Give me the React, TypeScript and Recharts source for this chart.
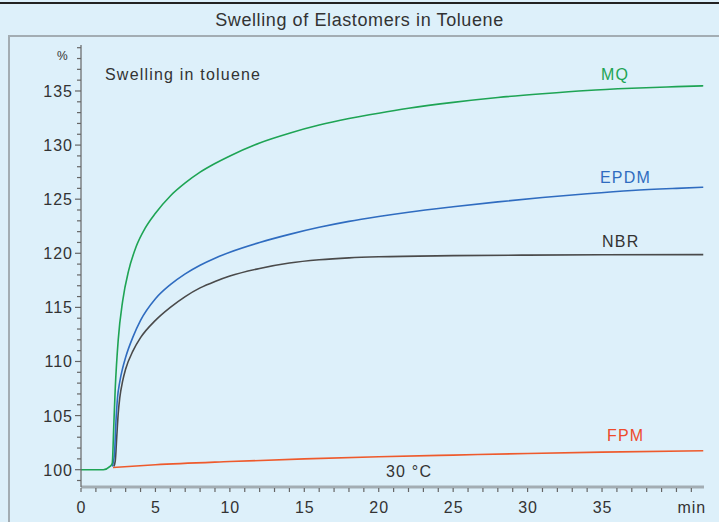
import { LineChart, Line, XAxis, YAxis } from 'recharts';

// time in minutes, swelling in %
const mqTime = [0, 1.5, 1.95, 2.1, 2.2, 2.3, 2.5, 2.8, 3.2, 3.7, 4.3, 5, 6, 7, 8, 9, 10, 12, 14, 16, 18, 20, 22, 25, 28, 31, 34, 37, 40, 41.8];
const mqValue = [100, 100, 100.3, 100.6, 104, 107.5, 112, 115.6, 118.4, 120.6, 122.3, 123.7, 125.3, 126.5, 127.5, 128.3, 129.0, 130.2, 131.1, 131.85, 132.45, 132.95, 133.4, 133.95, 134.4, 134.75, 135.05, 135.25, 135.4, 135.48];

const epdmTime = [2.1, 2.25, 2.35, 2.45, 2.6, 2.8, 3.0, 3.5, 4, 5, 6, 7, 8, 9, 10, 12, 14, 16, 18, 20, 22, 25, 28, 31, 34, 37, 40, 41.8];
const epdmValue = [100.3, 101.5, 104.5, 106.6, 108.1, 109.4, 110.4, 112.3, 113.8, 115.8, 117.1, 118.1, 118.9, 119.55, 120.1, 121.0, 121.75, 122.4, 122.95, 123.4, 123.8, 124.3, 124.75, 125.15, 125.5, 125.8, 126.0, 126.1];

const nbrTime = [2.2, 2.3, 2.4, 2.5, 2.6, 2.8, 3.0, 3.5, 4, 5, 6, 7, 8, 9, 10, 12, 14, 16, 18, 20, 25, 30, 35, 41.8];
const nbrValue = [100.3, 100.8, 103, 105.2, 106.6, 108.2, 109.3, 111.0, 112.2, 113.8, 115.0, 116.0, 116.8, 117.4, 117.9, 118.6, 119.1, 119.4, 119.58, 119.68, 119.78, 119.83, 119.86, 119.88];

const fpmTime = [2.15, 5, 10, 15, 20, 25, 30, 35, 41.8];
const fpmValue = [100.2, 100.45, 100.75, 101.0, 101.2, 101.35, 101.5, 101.62, 101.75];

const yTicks = Array.from({ length: 41 }, (_, i) => 99 + i);
const xTicks = Array.from({ length: 42 }, (_, i) => i);
const xLabels: Record<number, string> = { 0: '0', 5: '5', 10: '10', 15: '15', 20: '20', 25: '25', 30: '30', 35: '35', 41: 'min' };

const toPoints = (t: number[], v: number[]) => t.map((x, i) => ({ t: x, v: v[i] }));

const FONT = '"Liberation Sans", Arial, sans-serif';
const TEXT = '#333';

const YTick = (props: any) => {
  const { x, y, payload } = props;
  const major = payload.value % 5 === 0;
  return (
    <g>
      <line x1={x - (major ? 6 : 4)} x2={x} y1={y} y2={y} stroke="#666" strokeWidth={1.2} />
      {major && (
        <text x={x - 8} y={y + 6} textAnchor="end" fontSize={16} fill={TEXT} fontFamily={FONT} letterSpacing={1}>
          {payload.value}
        </text>
      )}
    </g>
  );
};

const XTick = (props: any) => {
  const { x, y, payload } = props;
  const label = xLabels[payload.value];
  return (
    <g>
      <line x1={x} x2={x} y1={y + 1} y2={y + 5} stroke="#666" strokeWidth={1.2} />
      {label && (
        <text x={x + 0.5} y={y + 26} textAnchor="middle" fontSize={16} fill={TEXT} fontFamily={FONT} letterSpacing={1}>
          {label}
        </text>
      )}
    </g>
  );
};

const note = (left: number, top: number, text: string, color: string, size = 16) => (
  <div style={{ position: 'absolute', left, top, color, fontSize: size, fontFamily: FONT, whiteSpace: 'nowrap', lineHeight: 1, letterSpacing: size > 13 ? 1.2 : 0 }}>
    {text}
  </div>
);

export default function App() {
  return (
    <div style={{ position: 'absolute', left: 0, top: 0, width: 719, height: 522, background: '#ddf0fa', overflow: 'hidden' }}>
      <div style={{ position: 'absolute', left: 0, top: 2, width: 719, height: 2, background: '#222' }} />
      <div style={{ position: 'absolute', left: 8, top: 35, width: 711, height: 2, background: '#a3adb3' }} />
      <div style={{ position: 'absolute', left: 8, top: 35, width: 1.5, height: 487, background: '#a3adb3' }} />
      <div style={{ position: 'absolute', left: 0, top: 10, width: 719, textAlign: 'center', fontSize: 18, color: TEXT, fontFamily: FONT, letterSpacing: 0.6 }}>
        Swelling of Elastomers in Toluene
      </div>
      <div style={{ position: 'absolute', left: 0, top: 0 }}>
        <LineChart width={719} height={522} margin={{ top: 45, right: 15, bottom: 5, left: 31 }}>
          <XAxis
            type="number"
            dataKey="t"
            domain={[0, 41.85]}
            allowDataOverflow
            ticks={xTicks}
            interval={0}
            tickSize={0}
            tickMargin={0}
            height={30}
            axisLine={{ stroke: '#a3adb3', strokeWidth: 3 }}
            tick={<XTick />}
          />
          <YAxis
            type="number"
            domain={[98.4, 139.25]}
            allowDataOverflow
            ticks={yTicks}
            interval={0}
            tickSize={0}
            tickMargin={0}
            width={50}
            axisLine={{ stroke: '#666', strokeWidth: 1.2 }}
            tick={<YTick />}
          />
          <Line data={toPoints(fpmTime, fpmValue)} dataKey="v" type="monotone" stroke="#ee5a2c" strokeWidth={1.6} dot={false} isAnimationActive={false} />
          <Line data={toPoints(nbrTime, nbrValue)} dataKey="v" type="monotone" stroke="#4a4a4a" strokeWidth={1.6} dot={false} isAnimationActive={false} />
          <Line data={toPoints(epdmTime, epdmValue)} dataKey="v" type="monotone" stroke="#2f6cc0" strokeWidth={1.6} dot={false} isAnimationActive={false} />
          <Line data={toPoints(mqTime, mqValue)} dataKey="v" type="monotone" stroke="#1ea454" strokeWidth={1.6} dot={false} isAnimationActive={false} />
        </LineChart>
      </div>
      {note(57, 50, '%', TEXT, 12)}
      {note(105, 67, 'Swelling in toluene', TEXT)}
      {note(601, 67, 'MQ', '#1ea454')}
      {note(600, 170, 'EPDM', '#2f6cc0')}
      {note(602, 234, 'NBR', TEXT)}
      {note(607, 428, 'FPM', '#ee4a2a')}
      {note(386, 464, '30 °C', TEXT)}
    </div>
  );
}
